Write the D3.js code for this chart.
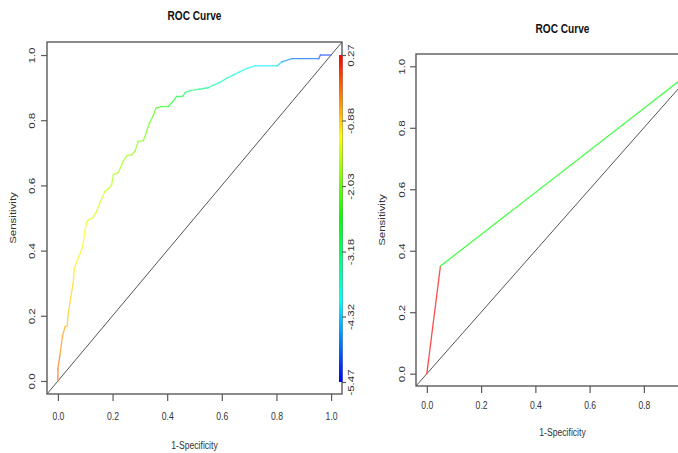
<!DOCTYPE html>
<html><head><meta charset="utf-8">
<script src="https://cdn.jsdelivr.net/npm/d3@7"></script>
<style>
body{margin:0;background:#fff;}
svg{display:block;}
text{font-family:"Liberation Sans",Arial,sans-serif;}
</style>
</head><body><svg id="c" width="678" height="453"></svg>
<script>
// ---- data ----
const rocFpr = [0,0,0.007,0.017,0.026,0.034,0.038,0.046,0.056,0.060,0.068,0.078,0.087,0.093,0.099,0.105,0.111,0.129,0.142,0.154,0.172,0.184,0.197,0.203,0.221,0.239,0.252,0.270,0.282,0.294,0.313,0.325,0.335,0.347,0.359,0.380,0.404,0.417,0.435,0.457,0.466,0.484,0.518,0.551,0.570,0.588,0.619,0.643,0.667,0.692,0.722,0.802,0.820,0.857,0.955,0.961,1.0];
const rocTpr = [0,0.038,0.078,0.139,0.166,0.170,0.206,0.251,0.302,0.343,0.364,0.384,0.404,0.425,0.460,0.486,0.494,0.501,0.521,0.547,0.582,0.588,0.603,0.633,0.639,0.674,0.691,0.694,0.705,0.735,0.738,0.766,0.791,0.811,0.837,0.842,0.842,0.854,0.873,0.873,0.885,0.891,0.895,0.900,0.908,0.914,0.929,0.939,0.949,0.959,0.967,0.967,0.979,0.989,0.989,1.0,1.0];
const rocCutoff = [-0.25,-0.35,-0.5,-0.65,-0.75,-0.8,-0.85,-0.92,-1.0,-1.05,-1.08,-1.1,-1.12,-1.15,-1.2,-1.3,-1.35,-1.4,-1.44,-1.48,-1.55,-1.58,-1.62,-1.66,-1.7,-1.74,-1.78,-1.82,-1.88,-1.94,-2.0,-2.06,-2.12,-2.2,-2.35,-2.48,-2.6,-2.75,-2.9,-3.0,-3.1,-3.2,-3.35,-3.45,-3.55,-3.62,-3.72,-3.8,-3.9,-4.0,-4.15,-4.3,-4.62,-4.87,-4.95,-5.18,-5.47];
const binFpr = [0, 0.05, 1];
const binTpr = [0, 0.35, 1];
const binCutoff = [1, 0.5];
const axisTicks = [0, 0.2, 0.4, 0.6, 0.8, 1.0];
const colorbarTicks = [0.27, -0.88, -2.03, -3.18, -4.32, -5.47];
const titleText = "ROC Curve";
const xLabel = "1-Specificity";
const yLabel = "Sensitivity";

// ---- drawing ----
const W = 678;
const svg = d3.select("#c");
const SX = 0.75;
const txtCol = "#333";
const axCol = "#5a5a5a";

function label(g, x, y, str, size, opts = {}) {
  return g.append("text")
    .attr("transform", `translate(${x},${y}) scale(${SX},1)` + (opts.rot ? " rotate(-90)" : ""))
    .attr("text-anchor", "middle").attr("dy", "0.35em")
    .attr("font-size", size).attr("font-weight", opts.bold ? "bold" : "normal")
    .attr("fill", opts.fill || txtCol).text(str);
}

function panel(cfg) {
  const x = d3.scaleLinear().domain([-0.04, 1.04]).range([cfg.left, cfg.right]);
  const y = d3.scaleLinear().domain([-0.04, 1.04]).range([cfg.bottom, cfg.top]);
  const g = svg.append("g");
  const cid = "clip" + cfg.id;
  svg.append("clipPath").attr("id", cid).append("rect")
    .attr("x", cfg.left).attr("y", cfg.top)
    .attr("width", cfg.right - cfg.left).attr("height", cfg.bottom - cfg.top);
  const inner = g.append("g").attr("clip-path", `url(#${cid})`);
  // diagonal
  inner.append("line").attr("x1", x(-0.04)).attr("y1", y(-0.04)).attr("x2", x(1.04)).attr("y2", y(1.04))
    .attr("stroke", "#555").attr("stroke-width", 1);
  // curve segments
  const hue = d3.scaleLinear().domain(cfg.cutDomain).range([0, 240]);
  for (let i = 0; i < cfg.fpr.length - 1; i++) {
    const base = d3.hsl(hue(cfg.cut[i]), 1, 0.5).formatHex();
    inner.append("line")
      .attr("x1", x(cfg.fpr[i])).attr("y1", y(cfg.tpr[i]))
      .attr("x2", x(cfg.fpr[i + 1])).attr("y2", y(cfg.tpr[i + 1]))
      .attr("stroke", d3.interpolateRgb(base, "#ffffff")(0.3))
      .attr("stroke-width", 1.3).attr("stroke-linecap", "square");
  }
  // box
  g.append("rect").attr("x", cfg.left).attr("y", cfg.top)
    .attr("width", cfg.right - cfg.left).attr("height", cfg.bottom - cfg.top)
    .attr("fill", "none").attr("stroke", axCol).attr("stroke-width", 1.4);
  // axes
  const xt = axisTicks.filter(d => x(d) < W - 8);
  const ax = g.append("g").attr("transform", `translate(0,${cfg.bottom})`)
    .call(d3.axisBottom(x).tickValues(xt).tickSize(7).tickFormat(d3.format(".1f")));
  ax.select(".domain").remove();
  ax.selectAll(".tick line").attr("stroke", axCol).attr("stroke-width", 1.2);
  ax.selectAll(".tick text").attr("y", null).attr("dy", "0.35em").attr("fill", txtCol)
    .attr("font-size", 11.5).attr("font-family", null)
    .attr("transform", `translate(0,${cfg.xLabOff}) scale(${SX},1)`);
  const ay = g.append("g").attr("transform", `translate(${cfg.left},0)`)
    .call(d3.axisLeft(y).tickValues(axisTicks).tickSize(6).tickFormat(d3.format(".1f")));
  ay.select(".domain").remove();
  ay.selectAll(".tick line").attr("stroke", axCol).attr("stroke-width", 1.2);
  ay.selectAll(".tick text").attr("x", null).attr("dy", "0.35em").attr("fill", txtCol)
    .attr("font-size", 11.5).attr("font-family", null).attr("text-anchor", "middle")
    .attr("transform", `translate(${-cfg.yLabOff},0) scale(${SX},1) rotate(-90)`);
  // titles
  label(g, (cfg.left + cfg.right) / 2, cfg.titleY, titleText, 13.5, { bold: true, fill: "#111" });
  label(g, (cfg.left + cfg.right) / 2, cfg.xTitleY, xLabel, 11.5);
  label(g, cfg.yTitleX, (cfg.top + cfg.bottom) / 2, yLabel, 11.5, { rot: true });
  return { x, y, g };
}

// left panel
panel({ id: "L", left: 47, right: 342, top: 42, bottom: 394, fpr: rocFpr, tpr: rocTpr, cut: rocCutoff,
  cutDomain: [colorbarTicks[0], colorbarTicks[colorbarTicks.length - 1]],
  xLabOff: 22, yLabOff: 15, titleY: 15, xTitleY: 445, yTitleX: 13 });

// colorbar
const cb = d3.scaleLinear().domain([colorbarTicks[0], colorbarTicks[colorbarTicks.length - 1]]).range([55, 382]);
const grad = svg.append("defs").append("linearGradient").attr("id", "rb")
  .attr("x1", 0).attr("y1", 0).attr("x2", 0).attr("y2", 1);
d3.range(0, 241, 20).forEach(h => grad.append("stop").attr("offset", h / 240).attr("stop-color", d3.hsl(h, 1, 0.5).formatHex()));
svg.append("rect").attr("x", 339).attr("y", cb.range()[0]).attr("width", 3.5)
  .attr("height", cb.range()[1] - cb.range()[0]).attr("fill", "url(#rb)");
const cax = svg.append("g").attr("transform", "translate(342,0)")
  .call(d3.axisRight(cb).tickValues(colorbarTicks).tickSize(4).tickFormat(d => d.toFixed(2)));
cax.select(".domain").remove();
cax.selectAll(".tick line").attr("stroke", axCol).attr("stroke-width", 1.2);
cax.selectAll(".tick text").attr("x", null).attr("dy", "0.35em").attr("fill", txtCol)
  .attr("font-size", 11.5).attr("font-family", null).attr("text-anchor", "middle")
  .attr("transform", `translate(9,0) scale(${SX},1) rotate(-90)`);

// right panel
panel({ id: "R", left: 416, right: 709, top: 54, bottom: 386, fpr: binFpr, tpr: binTpr, cut: binCutoff,
  cutDomain: [1, 0],
  xLabOff: 19, yLabOff: 14, titleY: 28, xTitleY: 432, yTitleX: 382 });
</script>
</body></html>
